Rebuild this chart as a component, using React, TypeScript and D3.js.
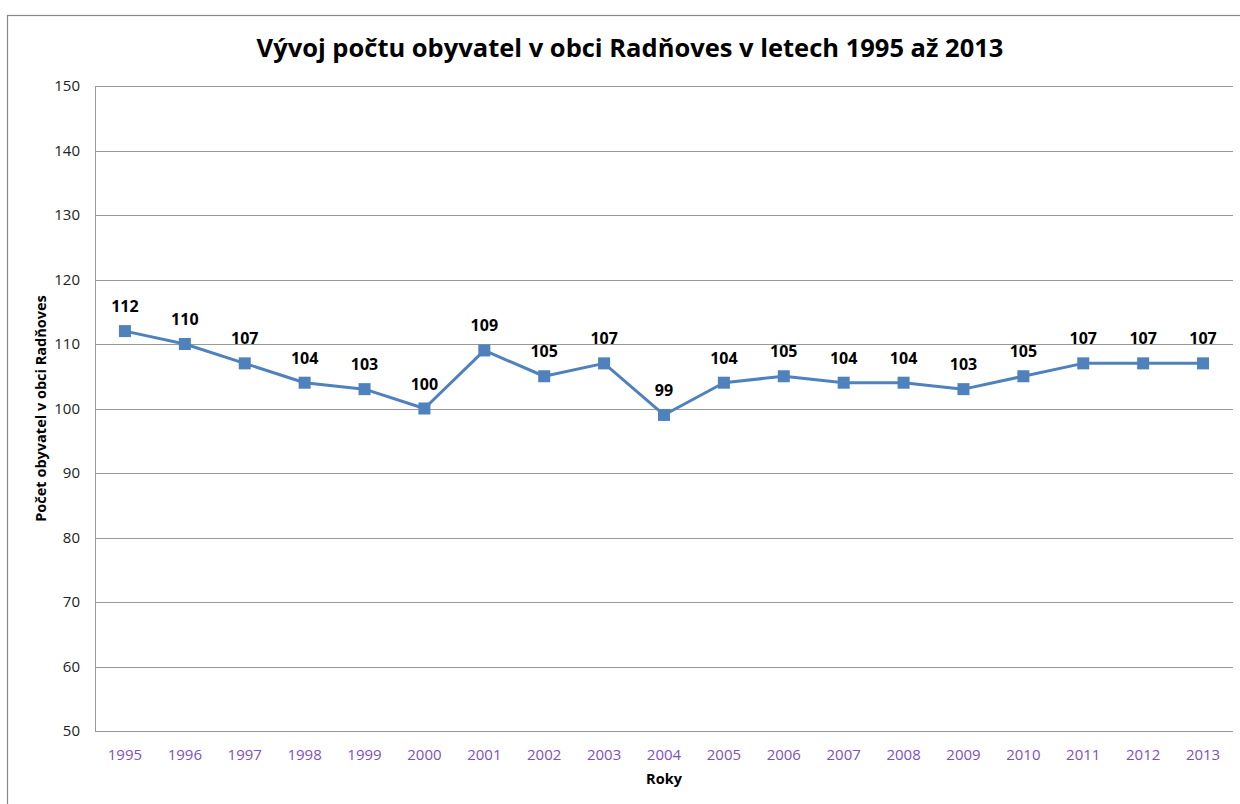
import React from "react";
import * as d3 from "d3";

const years = ["1995","1996","1997","1998","1999","2000","2001","2002","2003","2004","2005","2006","2007","2008","2009","2010","2011","2012","2013"];
const population = [112,110,107,104,103,100,109,105,107,99,104,105,104,104,103,105,107,107,107];
const yTicks = [50,60,70,80,90,100,110,120,130,140,150];

const W = 1240, H = 804;
const M = { left: 95, right: 1233, top: 86, bottom: 731 };
const FONT = "'Open Sans', 'Noto Sans', sans-serif";

export default function App() {
  const x = d3.scaleBand<string>().domain(years).range([M.left, M.right]);
  const y = d3.scaleLinear().domain([50, 150]).range([M.bottom, M.top]);
  const cx = (d: string) => (x(d) as number) + x.bandwidth() / 2;
  const line = d3.line<number>().x((_, i) => cx(years[i])).y((v) => y(v));

  return (
    <svg width={W} height={H} style={{ position: "absolute", left: 0, top: 0, background: "#fff" }}>
      <rect x={7.5} y={15.5} width={W} height={H} fill="#fff" stroke="#888" strokeWidth={1.2} />
      <text x={630} y={57} textAnchor="middle" fontFamily={FONT} fontWeight="bold" fontSize={25.5} fill="#000">
        Vývoj počtu obyvatel v obci Radňoves v letech 1995 až 2013
      </text>
      {yTicks.map((t) => (
        <g key={t}>
          <line x1={M.left} x2={M.right} y1={Math.round(y(t)) + 0.5} y2={Math.round(y(t)) + 0.5} stroke="#999" strokeWidth={1} />
          <text x={80} y={y(t) + 5} textAnchor="end" fontFamily={FONT} fontSize={15} fill="#222">{t}</text>
        </g>
      ))}
      <line x1={M.left + 0.5} x2={M.left + 0.5} y1={M.top} y2={M.bottom} stroke="#999" strokeWidth={1} />
      {years.map((yr) => (
        <text key={yr} x={cx(yr)} y={760} textAnchor="middle" fontFamily={FONT} fontSize={15} fill="#7F4FBF">{yr}</text>
      ))}
      <text x={664} y={784} textAnchor="middle" fontFamily={FONT} fontWeight="bold" fontSize={14.5} fill="#000">Roky</text>
      <text transform={`translate(46, ${(M.top + M.bottom) / 2}) rotate(-90)`} textAnchor="middle" fontFamily={FONT} fontWeight="bold" fontSize={14.5} fill="#000">
        Počet obyvatel v obci Radňoves
      </text>
      <path d={line(population) || ""} fill="none" stroke="#4F81BD" strokeWidth={3} strokeLinejoin="round" />
      {population.map((v, i) => (
        <g key={i}>
          <rect x={cx(years[i]) - 6} y={y(v) - 6} width={12} height={12} fill="#4F81BD" />
          <text x={cx(years[i])} y={y(v) - 19} textAnchor="middle" fontFamily={FONT} fontWeight="bold" fontSize={16} fill="#000">{v}</text>
        </g>
      ))}
    </svg>
  );
}
